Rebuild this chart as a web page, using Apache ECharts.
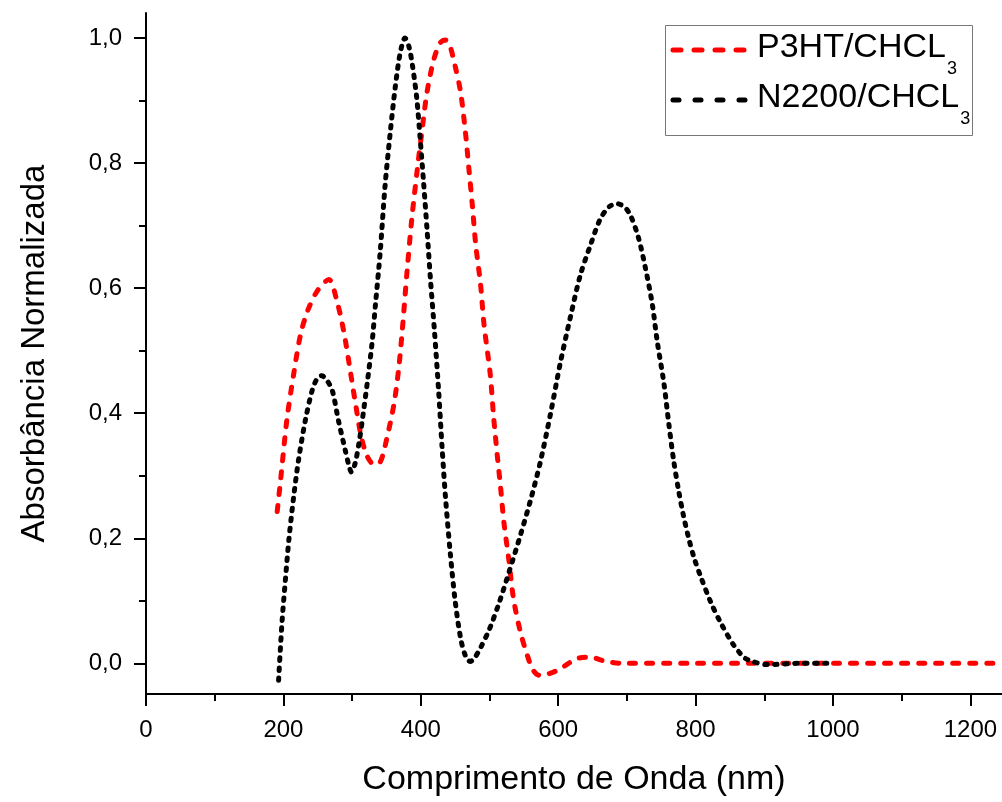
<!DOCTYPE html>
<html>
	<head>
		<meta charset="UTF-8">
		<title></title>
		<script src="https://cdn.jsdelivr.net/npm/echarts@6/dist/echarts.min.js"></script>
		<style type="text/css">
			html, body { margin: 0; padding: 0; background: #fff; }
		</style>
	</head>
	<body>
		<div id="box" style="width:1002px;height:802px;"></div>

		<script type="text/javascript">
			// P3HT / CHCl3 (red)
			var p3htX = [191, 196, 205, 215, 225, 235, 249, 266, 278, 288, 297, 305, 313, 322, 332, 341, 351, 361, 368, 373,
				380, 387, 395, 402, 409, 419, 428, 435, 441, 450, 458, 465, 470, 475, 480, 487, 492, 501, 506, 511,
				516, 521, 528, 535, 545, 555, 563, 572, 585, 601, 615, 628, 647, 666, 695, 800, 1000, 1246];
			var p3htY = [0.243, 0.294, 0.389, 0.463, 0.526, 0.563, 0.595, 0.614, 0.579, 0.530, 0.470, 0.415, 0.364, 0.331, 0.318, 0.322, 0.362, 0.415, 0.473, 0.532,
				0.627, 0.712, 0.791, 0.854, 0.913, 0.966, 0.992, 0.997, 0.992, 0.955, 0.913, 0.849, 0.791, 0.733, 0.669, 0.606, 0.542, 0.463, 0.394, 0.336,
				0.283, 0.225, 0.167, 0.103, 0.050, 0.013, -0.010, -0.019, -0.017, -0.010, 0.000, 0.008, 0.010, 0.004, 0.000, 0, 0, 0];

			// N2200 / CHCl3 (black)
			var n2200X = [193, 198, 203, 208, 215, 222, 232, 242, 249, 256, 263, 271, 280, 290, 295, 299, 304, 310, 316, 322,
				329, 334, 341, 348, 356, 363, 370, 377, 383, 388, 394, 399, 404, 409, 414, 420, 426, 431, 436, 443,
				450, 458, 465, 472, 479, 487, 500, 515, 529, 545, 560, 574, 589, 603, 618, 632, 647, 661, 674, 686,
				696, 705, 717, 727, 737, 744, 754, 761, 768, 775, 782, 790, 798, 807, 822, 836, 855, 870, 880, 904, 950, 991];
			var n2200Y = [-0.027, 0.066, 0.135, 0.198, 0.267, 0.325, 0.389, 0.437, 0.455, 0.460, 0.453, 0.437, 0.389, 0.341, 0.318, 0.306, 0.318, 0.352, 0.398, 0.448,
				0.512, 0.574, 0.659, 0.764, 0.854, 0.923, 0.976, 1.000, 0.985, 0.955, 0.905, 0.840, 0.770, 0.695, 0.615, 0.530, 0.435, 0.345, 0.265, 0.175,
				0.100, 0.040, 0.012, 0.003, 0.010, 0.025, 0.055, 0.100, 0.148, 0.205, 0.262, 0.322, 0.400, 0.480, 0.555, 0.620, 0.669, 0.710, 0.730, 0.735,
				0.730, 0.717, 0.680, 0.632, 0.574, 0.516, 0.447, 0.383, 0.325, 0.278, 0.238, 0.200, 0.168, 0.140, 0.098, 0.066, 0.030, 0.010, 0.004, -0.002, 0.000, 0.000];

			var seriesNames = ['P3HT/CHCL3', 'N2200/CHCL3'];
			var legendMain = ['P3HT/CHCL', 'N2200/CHCL'];
			var legendSub = ['3', '3'];

			var xMajorTicks = [0, 200, 400, 600, 800, 1000, 1200];
			var xMinorTicks = [100, 300, 500, 700, 900, 1100];
			var yMajorTicks = [0, 0.2, 0.4, 0.6, 0.8, 1.0];
			var yMinorTicks = [0.1, 0.3, 0.5, 0.7, 0.9];

			var colors = ['#ff0000', '#000000'];
			var curveDash = [[6, 11], [2.5, 7.5]];
			var legendDash = [[8, 13], [6, 16]];

			function zip(xs, ys) {
				return xs.map(function (x, i) { return [x, ys[i]]; });
			}

			var font = "'Liberation Sans', Arial, sans-serif";
			var measureCtx = document.createElement('canvas').getContext('2d');
			function textWidth(str, size) {
				measureCtx.font = size + 'px ' + font;
				return measureCtx.measureText(str).width;
			}

			// legend drawn by hand (box, dashed sample, text with subscript)
			var legendGraphic = [{
				type: 'rect',
				shape: { x: 665.5, y: 25.5, width: 307, height: 110 },
				style: { fill: '#fff', stroke: '#777', lineWidth: 1 },
				z: 10
			}];
			var rowY = [48, 98];
			for (var i = 0; i < seriesNames.length; i++) {
				legendGraphic.push({
					type: 'line',
					shape: { x1: 673, y1: rowY[i] + 2, x2: 748, y2: rowY[i] + 2 },
					style: { stroke: colors[i], lineWidth: 5, lineDash: legendDash[i], lineCap: 'round' },
					z: 11
				});
				legendGraphic.push({
					type: 'text',
					x: 757,
					y: rowY[i],
					style: { text: legendMain[i], fontSize: 34, fontFamily: font, fill: '#000', verticalAlign: 'middle', align: 'left' },
					z: 11
				});
				legendGraphic.push({
					type: 'text',
					x: 757 + textWidth(legendMain[i], 34) + 1,
					y: rowY[i] + 21,
					style: { text: legendSub[i], fontSize: 18, fontFamily: font, fill: '#000', verticalAlign: 'middle', align: 'left' },
					z: 11
				});
			}

			var tickLine = { color: '#000', width: 2 };
			var myChart = echarts.init(document.getElementById('box'));

			var option = {
				animation: false,
				textStyle: { fontFamily: font, color: '#000' },
				grid: { left: 146, right: 0, top: 13, bottom: 103 },
				graphic: legendGraphic,
				xAxis: [{
					type: 'value',
					min: 0,
					max: 1246,
					name: 'Comprimento de Onda (nm)',
					nameLocation: 'middle',
					nameGap: 69,
					nameTextStyle: { fontSize: 34, color: '#000', fontFamily: font },
					axisLine: { show: true, onZero: false, lineStyle: tickLine },
					axisTick: { show: true, length: 12, lineStyle: tickLine, customValues: xMajorTicks },
					splitLine: { show: false },
					axisLabel: {
						fontSize: 24,
						color: '#000',
						fontFamily: font,
						margin: 24,
						customValues: xMajorTicks,
						formatter: function (v) { return String(v); }
					}
				}, {
					type: 'value',
					min: 0,
					max: 1246,
					position: 'bottom',
					axisLine: { show: false, onZero: false },
					axisTick: { show: true, length: 7, lineStyle: tickLine, customValues: xMinorTicks },
					splitLine: { show: false },
					axisLabel: { show: false }
				}],
				yAxis: [{
					type: 'value',
					min: -0.049,
					max: 1.04,
					name: 'Absorbância Normalizada',
					nameLocation: 'middle',
					nameGap: 95,
					nameTextStyle: { fontSize: 33, color: '#000', fontFamily: font },
					axisLine: { show: true, onZero: false, lineStyle: tickLine },
					axisTick: { show: true, length: 12, lineStyle: tickLine, customValues: yMajorTicks },
					splitLine: { show: false },
					axisLabel: {
						fontSize: 24,
						color: '#000',
						fontFamily: font,
						margin: 24,
						customValues: yMajorTicks,
						formatter: function (v) {
							return v.toFixed(1).replace('.', ',');
						}
					}
				}, {
					type: 'value',
					min: -0.049,
					max: 1.04,
					position: 'left',
					axisLine: { show: false, onZero: false },
					axisTick: { show: true, length: 7, lineStyle: tickLine, customValues: yMinorTicks },
					splitLine: { show: false },
					axisLabel: { show: false }
				}],
				series: [{
					name: seriesNames[0],
					type: 'line',
					data: zip(p3htX, p3htY),
					smooth: 0.3,
					symbol: 'none',
					showSymbol: false,
					itemStyle: { color: colors[0] },
					lineStyle: { color: colors[0], width: 5, type: curveDash[0], cap: 'round' }
				}, {
					name: seriesNames[1],
					type: 'line',
					data: zip(n2200X, n2200Y),
					smooth: 0.3,
					symbol: 'none',
					showSymbol: false,
					itemStyle: { color: colors[1] },
					lineStyle: { color: colors[1], width: 5, type: curveDash[1], cap: 'round' }
				}]
			};
			myChart.setOption(option);
		</script>
	</body>
</html>
